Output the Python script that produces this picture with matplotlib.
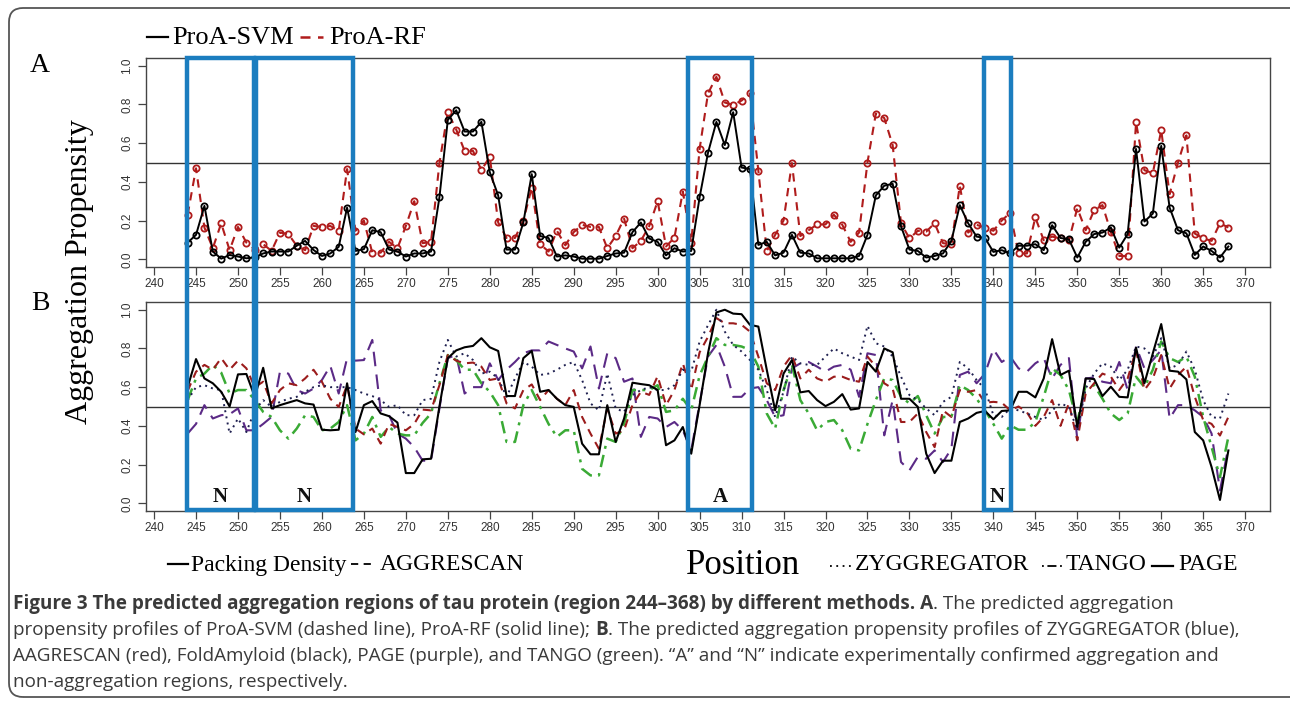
import matplotlib
matplotlib.use("Agg")
import numpy as np
import matplotlib.pyplot as plt
from matplotlib.lines import Line2D
from matplotlib.patches import Rectangle, FancyBboxPatch
from matplotlib.transforms import blended_transform_factory, IdentityTransform

# ---- data: residues 244..368 ----
positions = list(range(244, 369))

proa_svm = [0.086, 0.126, 0.276, 0.040, 0.003, 0.022, 0.014, 0.005, 0.010, 0.030,
            0.040, 0.040, 0.040, 0.070, 0.095, 0.048, 0.017, 0.030, 0.064, 0.267,
            0.043, 0.052, 0.150, 0.140, 0.050, 0.040, 0.014, 0.030, 0.030, 0.040,
            0.320, 0.720, 0.770, 0.660, 0.660, 0.710, 0.450, 0.330, 0.050, 0.050,
            0.190, 0.440, 0.120, 0.110, 0.014, 0.020, 0.014, 0.003, 0.003, 0.003,
            0.017, 0.030, 0.034, 0.140, 0.190, 0.107, 0.090, 0.020, 0.057, 0.040,
            0.043, 0.320, 0.550, 0.710, 0.590, 0.760, 0.474, 0.466, 0.074, 0.090,
            0.020, 0.034, 0.126, 0.034, 0.030, 0.005, 0.005, 0.005, 0.005, 0.005,
            0.017, 0.126, 0.330, 0.380, 0.390, 0.170, 0.050, 0.043, 0.009, 0.017,
            0.030, 0.095, 0.280, 0.186, 0.117, 0.110, 0.038, 0.047, 0.030, 0.070,
            0.070, 0.078, 0.047, 0.176, 0.110, 0.103, 0.009, 0.090, 0.130, 0.138,
            0.164, 0.060, 0.130, 0.570, 0.195, 0.236, 0.586, 0.267, 0.150, 0.134,
            0.022, 0.066, 0.043, 0.009, 0.066]

proa_rf = [0.230, 0.470, 0.164, 0.057, 0.186, 0.047, 0.167, 0.086, 0.050, 0.078,
           0.043, 0.138, 0.130, 0.070, 0.047, 0.172, 0.167, 0.172, 0.147, 0.466,
           0.147, 0.200, 0.034, 0.034, 0.090, 0.057, 0.172, 0.300, 0.083, 0.090,
           0.497, 0.760, 0.670, 0.560, 0.560, 0.460, 0.530, 0.190, 0.110, 0.110,
           0.200, 0.370, 0.078, 0.040, 0.147, 0.072, 0.140, 0.178, 0.167, 0.167,
           0.057, 0.120, 0.210, 0.057, 0.095, 0.172, 0.300, 0.066, 0.112, 0.350,
           0.086, 0.570, 0.857, 0.943, 0.810, 0.797, 0.820, 0.857, 0.457, 0.043,
           0.126, 0.200, 0.497, 0.120, 0.150, 0.180, 0.180, 0.230, 0.178, 0.090,
           0.138, 0.500, 0.753, 0.730, 0.590, 0.186, 0.108, 0.147, 0.143, 0.186,
           0.083, 0.078, 0.380, 0.138, 0.178, 0.164, 0.147, 0.200, 0.240, 0.030,
           0.030, 0.216, 0.098, 0.117, 0.108, 0.098, 0.264, 0.150, 0.253, 0.280,
           0.140, 0.017, 0.017, 0.707, 0.460, 0.445, 0.667, 0.336, 0.500, 0.640,
           0.133, 0.108, 0.095, 0.186, 0.164]

packing_density = [0.600, 0.745, 0.645, 0.620, 0.576, 0.500, 0.666, 0.668, 0.550, 0.700,
                   0.490, 0.507, 0.520, 0.533, 0.516, 0.510, 0.380, 0.377, 0.380, 0.620,
                   0.368, 0.507, 0.528, 0.464, 0.450, 0.417, 0.156, 0.156, 0.227, 0.230,
                   0.500, 0.750, 0.790, 0.806, 0.813, 0.853, 0.806, 0.787, 0.554, 0.554,
                   0.750, 0.787, 0.576, 0.585, 0.540, 0.507, 0.498, 0.308, 0.253, 0.253,
                   0.507, 0.317, 0.438, 0.623, 0.616, 0.610, 0.585, 0.300, 0.325, 0.394,
                   0.256, 0.507, 0.775, 0.986, 1.000, 0.980, 0.977, 0.922, 0.913, 0.690,
                   0.480, 0.670, 0.740, 0.573, 0.580, 0.533, 0.502, 0.524, 0.564, 0.484,
                   0.490, 0.730, 0.680, 0.800, 0.780, 0.540, 0.540, 0.498, 0.256, 0.156,
                   0.220, 0.220, 0.420, 0.438, 0.467, 0.477, 0.434, 0.477, 0.480, 0.576,
                   0.576, 0.547, 0.645, 0.848, 0.663, 0.685, 0.394, 0.645, 0.642, 0.554,
                   0.602, 0.550, 0.547, 0.804, 0.620, 0.775, 0.926, 0.685, 0.680, 0.640,
                   0.368, 0.325, 0.187, 0.017, 0.273]

aggrescan = [0.580, 0.680, 0.715, 0.690, 0.750, 0.690, 0.737, 0.697, 0.600, 0.628,
             0.516, 0.585, 0.620, 0.610, 0.645, 0.690, 0.628, 0.540, 0.498, 0.610,
             0.386, 0.356, 0.386, 0.308, 0.410, 0.394, 0.377, 0.410, 0.484, 0.480,
             0.610, 0.766, 0.737, 0.723, 0.727, 0.706, 0.637, 0.645, 0.516, 0.490,
             0.585, 0.614, 0.533, 0.585, 0.540, 0.507, 0.585, 0.446, 0.360, 0.282,
             0.490, 0.360, 0.377, 0.507, 0.576, 0.560, 0.657, 0.507, 0.585, 0.723,
             0.585, 0.780, 0.860, 0.957, 0.930, 0.930, 0.922, 0.887, 0.758, 0.620,
             0.585, 0.706, 0.766, 0.645, 0.690, 0.645, 0.628, 0.654, 0.654, 0.637,
             0.628, 0.758, 0.706, 0.620, 0.593, 0.420, 0.420, 0.464, 0.368, 0.290,
             0.480, 0.446, 0.585, 0.576, 0.585, 0.520, 0.524, 0.520, 0.480, 0.500,
             0.470, 0.400, 0.446, 0.533, 0.400, 0.516, 0.325, 0.567, 0.620, 0.670,
             0.654, 0.585, 0.645, 0.790, 0.585, 0.645, 0.766, 0.593, 0.663, 0.706,
             0.550, 0.430, 0.410, 0.350, 0.446]

zyggregator = [0.533, 0.600, 0.610, 0.593, 0.585, 0.360, 0.438, 0.368, 0.480, 0.533,
               0.498, 0.524, 0.540, 0.550, 0.576, 0.600, 0.610, 0.600, 0.600, 0.600,
               0.585, 0.567, 0.554, 0.533, 0.498, 0.507, 0.455, 0.455, 0.533, 0.540,
               0.730, 0.844, 0.758, 0.775, 0.740, 0.670, 0.680, 0.645, 0.550, 0.645,
               0.730, 0.706, 0.663, 0.670, 0.690, 0.715, 0.730, 0.637, 0.516, 0.480,
               0.670, 0.490, 0.472, 0.559, 0.585, 0.600, 0.585, 0.585, 0.610, 0.690,
               0.680, 0.835, 0.920, 1.000, 0.887, 0.818, 0.784, 0.740, 0.690, 0.585,
               0.446, 0.576, 0.758, 0.723, 0.715, 0.715, 0.758, 0.800, 0.775, 0.758,
               0.740, 0.917, 0.827, 0.810, 0.758, 0.654, 0.559, 0.533, 0.490, 0.455,
               0.524, 0.550, 0.730, 0.697, 0.637, 0.590, 0.455, 0.446, 0.490, 0.480,
               0.464, 0.446, 0.430, 0.480, 0.516, 0.498, 0.377, 0.593, 0.670, 0.723,
               0.706, 0.637, 0.690, 0.810, 0.800, 0.758, 0.853, 0.697, 0.715, 0.784,
               0.690, 0.533, 0.446, 0.438, 0.567]

tango = [0.533, 0.645, 0.670, 0.715, 0.675, 0.567, 0.585, 0.585, 0.533, 0.472,
         0.446, 0.377, 0.334, 0.386, 0.455, 0.446, 0.377, 0.386, 0.420, 0.507,
         0.325, 0.360, 0.446, 0.343, 0.394, 0.360, 0.351, 0.351, 0.415, 0.464,
         0.620, 0.766, 0.740, 0.690, 0.690, 0.620, 0.576, 0.507, 0.317, 0.317,
         0.507, 0.585, 0.498, 0.410, 0.343, 0.377, 0.377, 0.178, 0.144, 0.144,
         0.334, 0.317, 0.410, 0.585, 0.585, 0.585, 0.610, 0.472, 0.480, 0.540,
         0.480, 0.660, 0.758, 0.853, 0.818, 0.818, 0.810, 0.792, 0.706, 0.464,
         0.386, 0.585, 0.715, 0.533, 0.464, 0.377, 0.420, 0.430, 0.377, 0.282,
         0.273, 0.410, 0.533, 0.645, 0.637, 0.550, 0.516, 0.554, 0.455, 0.360,
         0.446, 0.446, 0.610, 0.585, 0.540, 0.480, 0.410, 0.334, 0.403, 0.380,
         0.380, 0.420, 0.550, 0.697, 0.663, 0.585, 0.420, 0.610, 0.610, 0.540,
         0.464, 0.430, 0.464, 0.654, 0.600, 0.690, 0.836, 0.750, 0.730, 0.758,
         0.654, 0.446, 0.290, 0.135, 0.343]

page = [0.360, 0.410, 0.507, 0.438, 0.455, 0.460, 0.490, 0.377, 0.377, 0.410,
        0.446, 0.680, 0.670, 0.585, 0.567, 0.593, 0.637, 0.710, 0.567, 0.750,
        0.737, 0.740, 0.844, 0.480, 0.455, 0.360, 0.334, 0.290, 0.220, 0.220,
        0.490, 0.750, 0.766, 0.567, 0.600, 0.600, 0.723, 0.637, 0.690, 0.730,
        0.775, 0.790, 0.790, 0.836, 0.818, 0.800, 0.784, 0.697, 0.810, 0.593,
        0.775, 0.750, 0.628, 0.645, 0.343, 0.446, 0.438, 0.394, 0.420, 0.377,
        0.273, 0.516, 0.758, 0.818, 0.706, 0.550, 0.550, 0.593, 0.600, 0.533,
        0.446, 0.455, 0.697, 0.723, 0.730, 0.706, 0.680, 0.706, 0.715, 0.690,
        0.550, 0.775, 0.766, 0.351, 0.533, 0.213, 0.170, 0.240, 0.230, 0.273,
        0.213, 0.282, 0.663, 0.680, 0.620, 0.670, 0.796, 0.730, 0.758, 0.697,
        0.680, 0.723, 0.750, 0.645, 0.715, 0.750, 0.330, 0.645, 0.650, 0.628,
        0.620, 0.730, 0.585, 0.810, 0.697, 0.740, 0.792, 0.438, 0.507, 0.507,
        0.480, 0.446, 0.360, 0.066, 0.290]

# experimentally tested regions (start, end, label)
region_bounds = [(243.9, 251.9), (252.1, 263.7), (303.6, 311.3), (338.9, 342.1)]
region_labels = ['N', 'N', 'A', 'N']

W, H = 1290, 702
SERIF = 'Liberation Serif'
SANS = 'Liberation Sans'


def fx(x):
    return x / W


def fy(y):
    return 1 - y / H


def style_axis(ax):
    ax.set_xlim(239.04, 372.96)
    ax.set_ylim(-0.04, 1.04)
    ax.set_xticks(range(240, 371, 5))
    ax.set_yticks([0.0, 0.2, 0.4, 0.6, 0.8, 1.0])
    ax.set_yticklabels(['0.0', '0.2', '0.4', '0.6', '0.8', '1.0'])
    for s in ax.spines.values():
        s.set_color('#444444')
        s.set_linewidth(1.0)
    ax.tick_params(axis='both', direction='out', length=6, width=0.9,
                   color='#444444', labelsize=8.5, labelcolor='#333333')
    ax.tick_params(axis='y', labelrotation=90, pad=3)
    ax.tick_params(axis='x', pad=2)
    for lab in ax.get_xticklabels() + ax.get_yticklabels():
        lab.set_family(SANS)
    for lab in ax.get_yticklabels():
        lab.set_va('center')
    ax.axhline(0.5, color='#333333', lw=1.0)


fig = plt.figure(figsize=(12.9, 7.02), dpi=100)

ax1 = fig.add_axes([fx(146), fy(267), fx(1270) - fx(146), fy(58) - fy(267)])
ax2 = fig.add_axes([fx(146), fy(511), fx(1270) - fx(146), fy(302) - fy(511)])
style_axis(ax1)
style_axis(ax2)

# panel A
ax1.plot(positions, proa_rf, color='#b01c1c', lw=1.5, ls=(0, (4, 3)),
         marker='o', ms=4.5, mfc='none', mew=1.3)
ax1.plot(positions, proa_svm, color='black', lw=1.4,
         marker='o', ms=4.5, mfc='none', mew=1.3)

# panel B
ax2.plot(positions, page, color='#5b2a86', lw=1.5, ls=(0, (7, 4)))
ax2.plot(positions, tango, color='#3aaa35', lw=1.8, ls=(0, (5, 2.5, 1.2, 2.5)))
ax2.plot(positions, aggrescan, color='#9b1c1c', lw=1.5, ls=(0, (4, 3)))
ax2.plot(positions, zyggregator, color='#1f2050', lw=1.4, ls=(0, (1, 2.2)))
ax2.plot(positions, packing_density, color='black', lw=1.5)

# blue region boxes spanning both panels
trans = blended_transform_factory(ax2.transData, fig.transFigure)
y_lo, y_hi = fy(510), fy(58)
for (x0, x1), lab in zip(region_bounds, region_labels):
    fig.add_artist(Rectangle((x0, y_lo), x1 - x0, y_hi - y_lo, transform=trans,
                             fill=False, ec='#1b7dbf', lw=3.2, clip_on=False, zorder=5))
    ax2.text((x0 + x1) / 2, 0.03, lab, ha='center', va='center', fontsize=15,
             family=SERIF, fontweight='bold', color='#111111')

# panel letters and y label
fig.text(fx(40), fy(66), 'A', fontsize=20, family=SERIF, ha='center', va='center')
fig.text(fx(40), fy(304), 'B', fontsize=20, family=SERIF, ha='center', va='center')
fig.text(fx(80), fy(272), 'Aggregation Propensity', rotation=90, fontsize=23,
         family=SERIF, ha='center', va='center')


def legend_line(x0, x1, y, **kw):
    fig.add_artist(Line2D([fx(x0), fx(x1)], [fy(y), fy(y)],
                          transform=fig.transFigure, **kw))


def legend_text(x, y, s, size=19):
    fig.text(fx(x), fy(y), s, fontsize=size, family=SERIF, ha='left', va='center')


# top legend
legend_line(147, 168, 37, color='black', lw=1.6)
legend_text(172, 38, 'ProA-SVM')
legend_line(300, 323, 37, color='#b01c1c', lw=1.8, ls=(0, (4, 3)))
legend_text(329, 38, 'ProA-RF')

# bottom legend
legend_line(168, 188, 564, color='black', lw=1.6)
legend_text(191, 565, 'Packing Density', size=17)
legend_line(351, 376, 564, color='black', lw=1.3, ls=(0, (4, 3)))
legend_text(380, 565, 'AGGRESCAN', size=17)
fig.text(fx(686), fy(566), 'Position', fontsize=25, family=SERIF, ha='left', va='center')
legend_line(830, 852, 566, color='black', lw=1.3, ls=(0, (1, 2.5)))
legend_text(855, 565, 'ZYGGREGATOR', size=17)
legend_line(1042, 1063, 566, color='black', lw=1.3, ls=(0, (1, 2, 5, 2)))
legend_text(1066, 565, 'TANGO', size=17)
legend_line(1152, 1173, 566, color='black', lw=1.6)
legend_text(1178, 565, 'PAGE', size=17)

# caption
renderer = fig.canvas.get_renderer()
cap_color = '#3a3a3a'
cap_family = 'Open Sans'


def text_width(s, size, weight='normal'):
    t = fig.text(0, 0, s, fontsize=size, family=cap_family, fontweight=weight)
    w = t.get_window_extent(renderer).width
    t.remove()
    return w


line3 = ('AAGRESCAN (red), FoldAmyloid (black), PAGE (purple), and TANGO (green). '
         '\u201cA\u201d and \u201cN\u201d indicate experimentally confirmed aggregation and')
cap_size = 12 * (1215 - 13) / text_width(line3, 12)
space_w = text_width('a a', cap_size) - text_width('aa', cap_size)

caption_lines = [
    [('Figure 3 The predicted aggregation regions of tau protein (region 244\u2013368) '
      'by different methods. A', 'bold'), ('. The predicted aggregation', 'normal')],
    [('propensity profiles of ProA-SVM (dashed line), ProA-RF (solid line);', 'normal'),
     (' ', 'space'), ('B', 'bold'),
     ('. The predicted aggregation propensity profiles of ZYGGREGATOR (blue),', 'normal')],
    [(line3, 'normal')],
    [('non-aggregation regions, respectively.', 'normal')],
]
cap_y = [604, 630, 656, 682]
for pieces, y in zip(caption_lines, cap_y):
    x = 13
    for s, weight in pieces:
        if weight == 'space':
            x += space_w
            continue
        t = fig.text(fx(x), fy(y), s, fontsize=cap_size, family=cap_family,
                     fontweight=weight, color=cap_color, ha='left', va='center')
        x += t.get_window_extent(renderer).width

# outer rounded frame
fig.add_artist(FancyBboxPatch((9, H - 697), 1320, 689,
                              boxstyle='round,pad=0,rounding_size=14',
                              transform=IdentityTransform(), fill=False,
                              ec='#555555', lw=1.3))

fig.savefig('out.png', dpi=100)
